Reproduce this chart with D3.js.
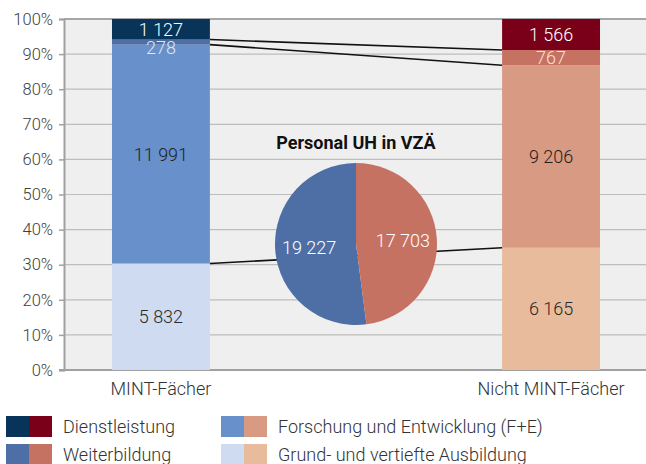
<!DOCTYPE html>
<html>
<head>
<meta charset="utf-8">
<script src="https://cdn.jsdelivr.net/npm/d3@7"></script>
<style>
  body { margin: 0; background: #fff; }
  text { font-family: Roboto, "Noto Sans", sans-serif; }
</style>
</head>
<body>
<div id="chart"></div>
<script>
const categories = ['MINT-Fächer', 'Nicht MINT-Fächer'];
const segments = ['Grund', 'FE', 'Weiter', 'Dienst'];
const grundValues = [5832, 6165];
const feValues = [11991, 9206];
const weiterValues = [278, 767];
const dienstValues = [1127, 1566];
const pieValues = [19227, 17703];
const legendLabels = ['Dienstleistung', 'Weiterbildung', 'Forschung und Entwicklung (F+E)', 'Grund- und vertiefte Ausbildung'];
const yTicks = [0, 0.1, 0.2, 0.3, 0.4, 0.5, 0.6, 0.7, 0.8, 0.9, 1];

const colors = {
  Dienst: ['#073458', '#790018'],
  Weiter: ['#4d6fa6', '#c67262'],
  FE: ['#6891cb', '#d89a82'],
  Grund: ['#cfdbf1', '#e7bb9c']
};
const labelColors = {
  Dienst: ['#ffffff', '#ffffff'],
  Weiter: ['#dfe6f2', '#f6e0da'],
  FE: ['#1f1f1f', '#1f1f1f'],
  Grund: ['#2a2a2a', '#2a2a2a']
};

const width = 646, height = 464;
const plot = { left: 64, right: 646, top: 19, bottom: 370 };

const svg = d3.select('#chart').append('svg')
  .attr('width', width)
  .attr('height', height);

svg.append('rect')
  .attr('x', plot.left).attr('y', plot.top)
  .attr('width', plot.right - plot.left).attr('height', plot.bottom - plot.top)
  .attr('fill', '#efefef');

const x = d3.scaleBand().domain(categories).range([plot.left, 648]).paddingInner(0.749).paddingOuter(0.123);
const y = d3.scaleLinear().domain([0, 1]).range([plot.bottom, plot.top]);

// grid
svg.append('g').selectAll('line')
  .data(yTicks.slice(1))
  .join('line')
  .attr('x1', plot.left).attr('x2', plot.right)
  .attr('y1', d => y(d)).attr('y2', d => y(d))
  .attr('stroke', d => d === 1 ? '#a6a6a6' : '#bdbdbd')
  .attr('stroke-width', d => d === 1 ? 2 : 1.2);

// y axis
const yAxis = svg.append('g')
  .attr('transform', `translate(${plot.left},0)`)
  .call(d3.axisLeft(y).tickValues(yTicks).tickFormat(d3.format('.0%')).tickSize(5).tickPadding(6));
yAxis.select('.domain').attr('stroke', '#a0a0a0').attr('stroke-width', 2);
yAxis.selectAll('.tick line').attr('stroke', '#a0a0a0').attr('stroke-width', 1.5);
yAxis.selectAll('.tick text').attr('font-size', 16.5).attr('font-weight', 300).attr('fill', '#404040');

// bottom axis line
svg.append('line')
  .attr('x1', plot.left - 5).attr('x2', plot.right)
  .attr('y1', plot.bottom).attr('y2', plot.bottom)
  .attr('stroke', '#a0a0a0').attr('stroke-width', 2);

// stacked data
const rows = categories.map((c, i) => ({
  cat: c, idx: i,
  Grund: grundValues[i], FE: feValues[i], Weiter: weiterValues[i], Dienst: dienstValues[i]
}));
const stack = d3.stack().keys(segments).offset(d3.stackOffsetExpand);
const series = stack(rows);

// connector lines between the bars (pie covers the middle one)
const connectors = ['Weiter', 'FE', 'Grund'].map(k => {
  const s = series.find(d => d.key === k);
  return [[x(categories[0]) + x.bandwidth(), y(s[0][1])], [x(categories[1]), y(s[1][1])]];
});

series.forEach(s => {
  svg.append('g').selectAll('rect')
    .data(s)
    .join('rect')
    .attr('x', d => x(d.data.cat))
    .attr('width', x.bandwidth())
    .attr('y', d => y(d[1]))
    .attr('height', d => y(d[0]) - y(d[1]))
    .attr('fill', d => colors[s.key][d.data.idx]);
});

svg.append('g').selectAll('line')
  .data(connectors)
  .join('line')
  .attr('x1', d => d[0][0]).attr('y1', d => d[0][1])
  .attr('x2', d => d[1][0]).attr('y2', d => d[1][1])
  .attr('stroke', '#111').attr('stroke-width', 1.6);

// bar labels
const fmt = v => d3.format(',')(v).replace(/,/g, ' ');
series.forEach(s => {
  svg.append('g').selectAll('text')
    .data(s)
    .join('text')
    .attr('x', d => x(d.data.cat) + x.bandwidth() / 2)
    .attr('y', d => {
      const mid = (y(d[0]) + y(d[1])) / 2;
      return s.key === 'Weiter' && d.data.idx === 0 ? mid + 5 : mid;
    })
    .attr('dy', '0.36em')
    .attr('text-anchor', 'middle')
    .attr('font-size', 18)
    .attr('font-weight', 300)
    .attr('fill', d => labelColors[s.key][d.data.idx])
    .text(d => fmt(d.data[s.key]));
});

// x labels
svg.append('g').selectAll('text')
  .data(categories)
  .join('text')
  .attr('x', d => x(d) + x.bandwidth() / 2)
  .attr('y', 395)
  .attr('text-anchor', 'middle')
  .attr('font-size', 18)
  .attr('font-weight', 300)
  .attr('fill', '#333')
  .text(d => d);

// pie
const pieCx = 356, pieCy = 244, pieR = 81;
const pie = d3.pie().sort(null).value(d => d)
  .startAngle(0).endAngle(-2 * Math.PI);
const pieData = pie(pieValues);
const arc = d3.arc().innerRadius(0).outerRadius(pieR);
const pieColors = [colors.Weiter[0], colors.Weiter[1]];
const pg = svg.append('g').attr('transform', `translate(${pieCx},${pieCy})`);
pg.selectAll('path')
  .data(pieData)
  .join('path')
  .attr('d', arc)
  .attr('fill', (d, i) => pieColors[i]);
const labelArc = d3.arc().innerRadius(pieR * 0.58).outerRadius(pieR * 0.58);
pg.selectAll('text')
  .data(pieData)
  .join('text')
  .attr('transform', d => `translate(${labelArc.centroid(d)})`)
  .attr('dy', '0.36em')
  .attr('text-anchor', 'middle')
  .attr('font-size', 18)
  .attr('font-weight', 300)
  .attr('fill', '#fff')
  .text(d => fmt(d.data));

svg.append('text')
  .attr('x', pieCx).attr('y', 149)
  .attr('text-anchor', 'middle')
  .attr('font-size', 18)
  .attr('font-weight', 700)
  .attr('fill', '#111')
  .text('Personal UH in VZÄ');

// legend
const legendKeys = ['Dienst', 'Weiter', 'FE', 'Grund'];
const legendPos = [[6, 416], [6, 444], [221, 416], [221, 444]];
const lg = svg.append('g');
legendKeys.forEach((k, i) => {
  const [lx, ly] = legendPos[i];
  lg.append('rect').attr('x', lx).attr('y', ly).attr('width', 23).attr('height', 21).attr('fill', colors[k][0]);
  lg.append('rect').attr('x', lx + 23).attr('y', ly).attr('width', 23).attr('height', 21).attr('fill', colors[k][1]);
  lg.append('text')
    .attr('x', lx + 57).attr('y', ly + 11)
    .attr('dy', '0.36em')
    .attr('font-size', 18)
    .attr('font-weight', 300)
    .attr('fill', '#333')
    .text(legendLabels[i]);
});
</script>
</body>
</html>
